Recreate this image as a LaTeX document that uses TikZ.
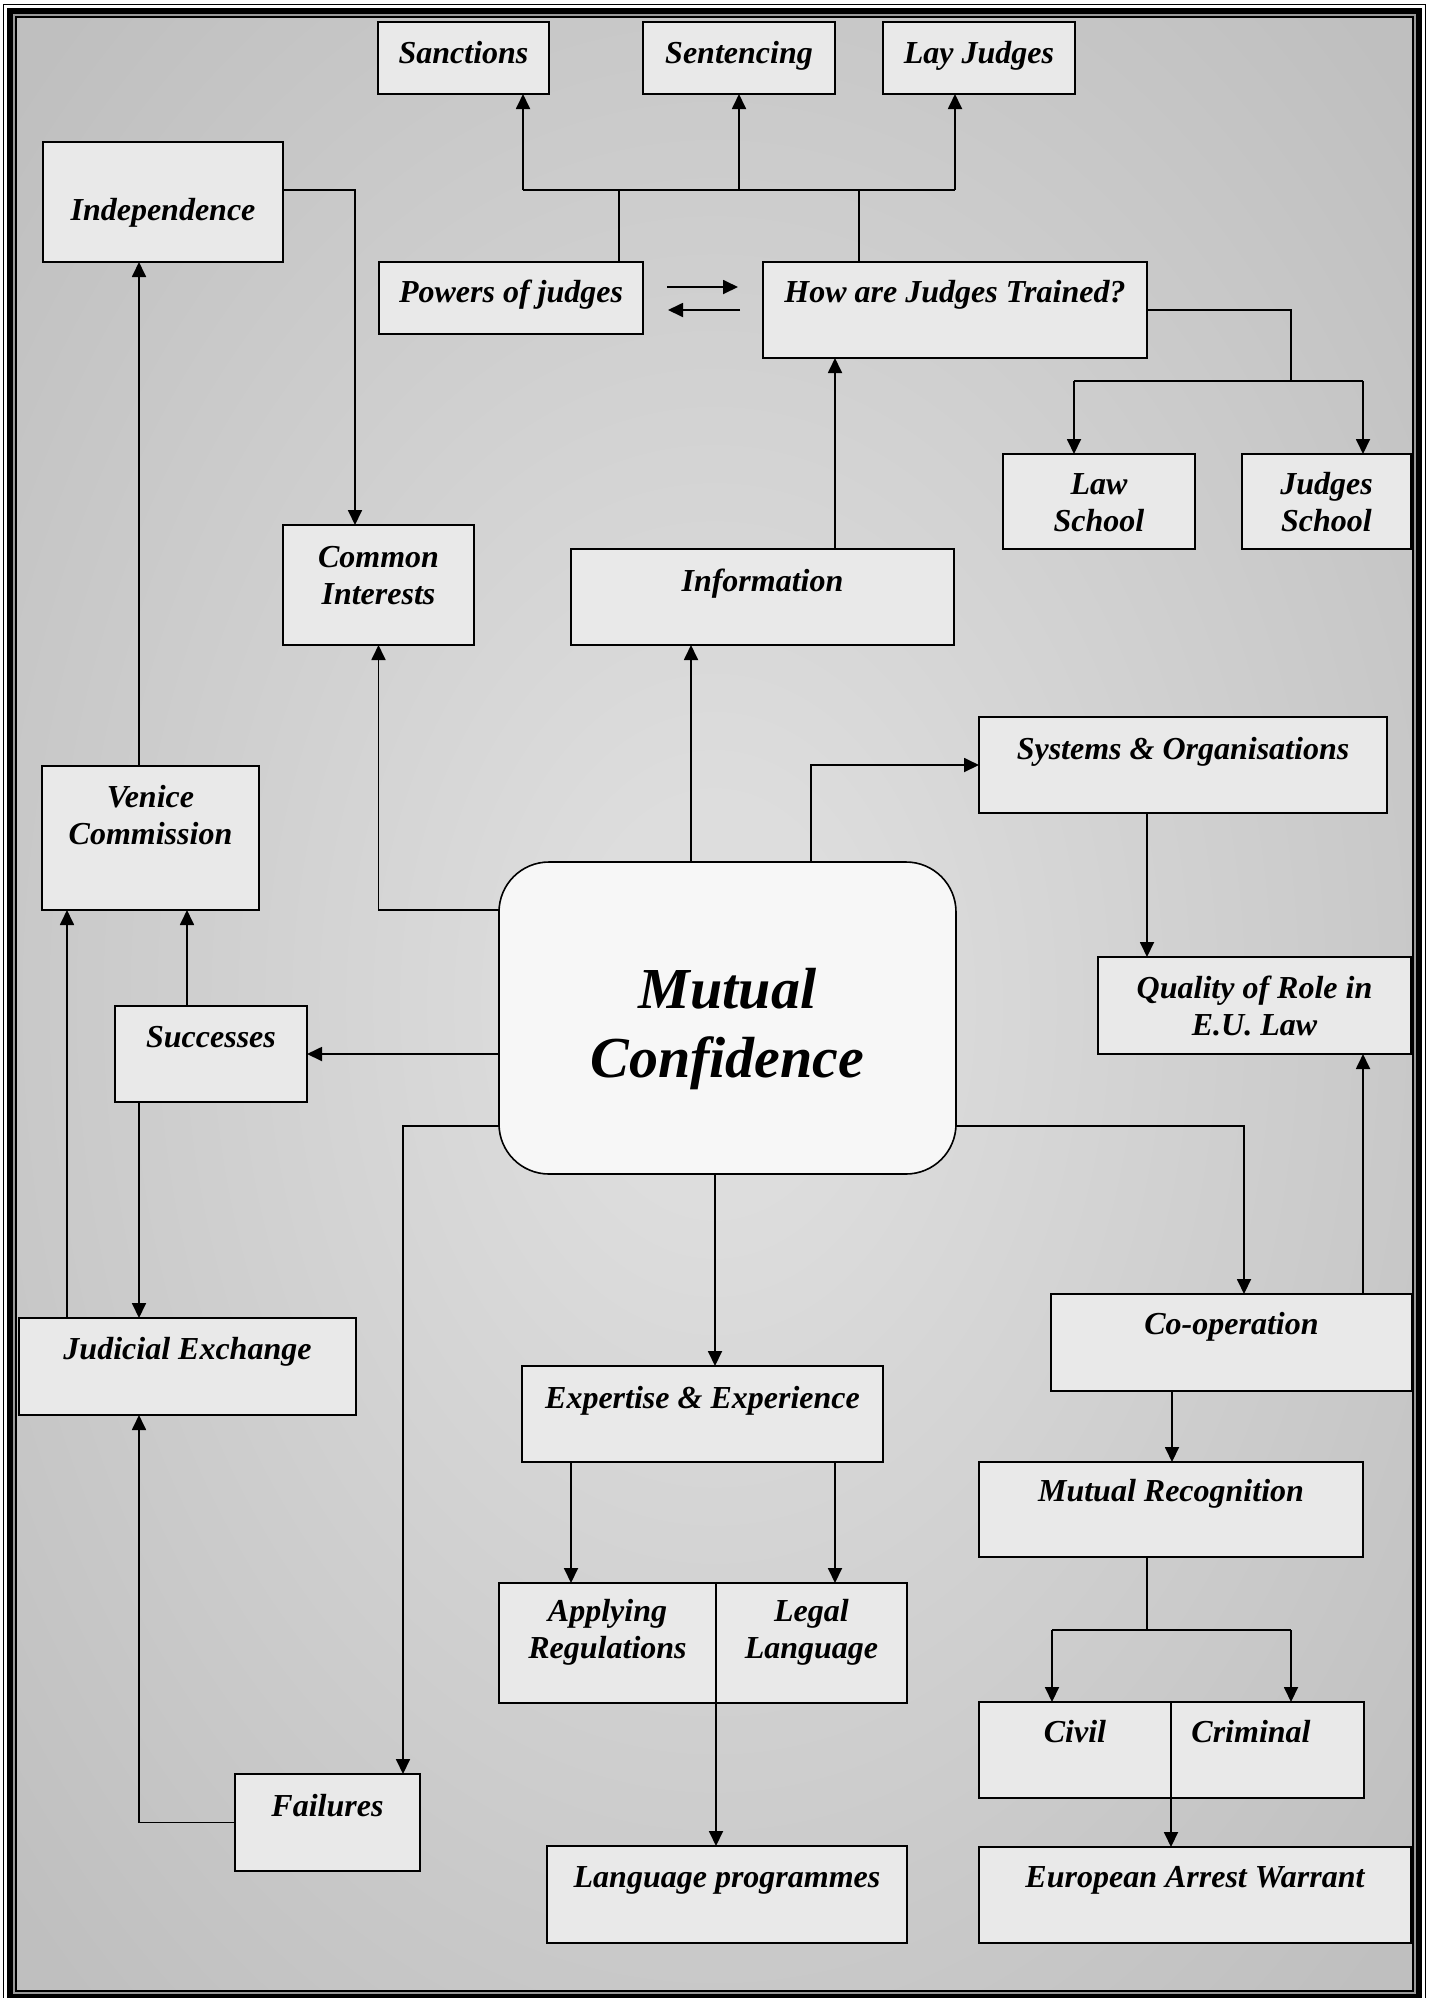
\documentclass[tikz,border=0pt]{standalone}
\usepackage{fontspec}
\setmainfont{Liberation Serif}
\usetikzlibrary{arrows.meta}

\definecolor{bgC}{HTML}{DDDDDD}
\definecolor{bgE}{HTML}{BFBFBF}
\definecolor{boxfill}{HTML}{E9E9E9}
\definecolor{hubfill}{HTML}{F7F7F7}
\definecolor{band}{HTML}{9A9A9A}

\pgfdeclareradialshading{bgglow}{\pgfpoint{0bp}{0bp}}{%
  color(0bp)=(bgC); color(5bp)=(bgC); color(34bp)=(bgE); color(75bp)=(bgE)}

% one box: name, left, top, right, bottom (pixels, y downwards)
\newcommand\mkbox[5]{%
  \pgfmathsetmacro\bw{#4-#2}\pgfmathsetmacro\bh{#5-#3}%
  \node[box, minimum width=\bw pt, minimum height=\bh pt] (#1) at (#2,#3) {};}

\begin{document}
\begin{tikzpicture}[x=1pt, y=-1pt,
  box/.style={draw, line width=2pt, fill=boxfill, rectangle, anchor=north west,
    inner sep=0pt, outer sep=0pt},
  lbl/.style={anchor=base, align=center, inner sep=0pt,
    font=\bfseries\itshape\fontsize{32}{37}\selectfont},
  line/.style={line width=1.8pt},
  arr/.style={line, -{Triangle[length=15pt,width=14pt]}}]

\useasboundingbox (0,0) rectangle (1440,1998);

% background and page frame
\shade[shading=bgglow] (17,18) rectangle (1412,1990);
\draw[line width=1.5pt] (16,17) rectangle (1413,1991);
\draw[band, line width=2.4pt] (13.8,14.8) rectangle (1415.2,1993.2);
\draw[line width=5.4pt] (10,11) rectangle (1419,1997);
\draw[line width=1.6pt] (3.5,4.5) rectangle (1425.5,2003.5);

% boxes
\mkbox{sanctions}{378}{22}{549}{94}
\mkbox{sentencing}{643}{22}{835}{94}
\mkbox{lay}{883}{22}{1075}{94}
\mkbox{indep}{43}{142}{283}{262}
\mkbox{powers}{379}{262}{643}{334}
\mkbox{how}{763}{262}{1147}{358}
\mkbox{law}{1003}{454}{1195}{549}
\mkbox{jschool}{1242}{454}{1411}{549}
\mkbox{ci}{283}{525}{474}{645}
\mkbox{info}{571}{549}{954}{645}
\mkbox{systems}{979}{717}{1387}{813}
\mkbox{venice}{42}{766}{259}{910}
\mkbox{quality}{1098}{957}{1411}{1054}
\mkbox{succ}{115}{1006}{307}{1102}
\mkbox{coop}{1051}{1294}{1412}{1391}
\mkbox{je}{19}{1318}{356}{1415}
\mkbox{exp}{522}{1366}{883}{1462}
\mkbox{mr}{979}{1462}{1363}{1557}
\mkbox{apply}{499}{1583}{716}{1703}
\mkbox{legal}{716}{1583}{907}{1703}
\mkbox{civil}{979}{1702}{1171}{1798}
\mkbox{criminal}{1171}{1702}{1364}{1798}
\mkbox{fail}{235}{1774}{420}{1871}
\mkbox{langprog}{547}{1846}{907}{1943}
\mkbox{eaw}{979}{1847}{1411}{1943}

% central hub
\node[draw, line width=1.6pt, fill=hubfill, rounded corners=50pt, anchor=north west,
  minimum width=457pt, minimum height=312pt, inner sep=0pt, outer sep=0pt]
  (mc) at (499,862) {};

% box texts (base = baseline of the last line)
\node[lbl] (sanctions-t) at (463.5,63) {Sanctions};
\node[lbl] (sentencing-t) at (739,63) {Sentencing};
\node[lbl] (lay-t) at (979,63) {Lay Judges};
\node[lbl] (indep-t) at (163,220) {Independence};
\node[lbl] (powers-t) at (511,302) {Powers of judges};
\node[lbl] (how-t) at (955,302) {How are Judges Trained?};
\node[lbl] (law-t) at (1099,531) {Law\\School};
\node[lbl] (jschool-t) at (1326.5,531) {Judges\\School};
\node[lbl] (ci-t) at (378.5,604) {Common\\Interests};
\node[lbl] (info-t) at (762.5,591) {Information};
\node[lbl] (systems-t) at (1183,759) {Systems \& Organisations};
\node[lbl] (venice-t) at (150.5,844) {Venice\\Commission};
\node[lbl] (quality-t) at (1254.5,1035) {Quality of Role in\\E.U. Law};
\node[lbl] (succ-t) at (211,1047) {Successes};
\node[lbl] (coop-t) at (1231.5,1334) {Co-operation};
\node[lbl] (je-t) at (187.5,1359) {Judicial Exchange};
\node[lbl] (exp-t) at (702.5,1408) {Expertise \& Experience};
\node[lbl] (mr-t) at (1171,1501) {Mutual Recognition};
\node[lbl] (apply-t) at (607.5,1658) {Applying\\Regulations};
\node[lbl] (legal-t) at (811.5,1658) {Legal\\Language};
\node[lbl] (civil-t) at (1075,1742) {Civil};
\node[lbl] (criminal-t) at (1251,1742) {Criminal};
\node[lbl] (fail-t) at (327.5,1816) {Failures};
\node[lbl] (langprog-t) at (727,1887) {Language programmes};
\node[lbl] (eaw-t) at (1195,1887) {European Arrest Warrant};
\node[lbl, font=\bfseries\itshape\fontsize{58}{69}\selectfont] (mc-t) at (727.5,1077)
  {Mutual\\Confidence};

% junction points of the two branching buses
\coordinate (tbusL) at (523,190);
\coordinate (tbusR) at (955,190);
\coordinate (rbusL) at (1074,381);
\coordinate (rbusR) at (1363,381);
\coordinate (bbusL) at (1052,1630);
\coordinate (bbusR) at (1291,1630);

% top: powers / training feed sanctions, sentencing, lay judges
\draw[line] (powers.north -| 619,0) -- (tbusL -| 619,0);
\draw[line] (how.north -| 859,0) -- (tbusL -| 859,0);
\draw[line] (tbusL) -- (tbusR);
\draw[arr] (tbusL) -- (sanctions.south -| tbusL);
\draw[arr] (sentencing.south |- tbusL) -- (sentencing.south);
\draw[arr] (tbusR) -- (lay.south -| tbusR);

% exchange between powers and training
\draw[arr] ([shift={(24,-11)}]powers.east) -- ([shift={(-25,-23)}]how.west);
\draw[arr] ([xshift=-23pt]how.west) -- ([shift={(25,12)}]powers.east);

% training branches into the schools
\draw[line] (how.east) -| (rbusL -| 1291,0);
\draw[line] (rbusL) -- (rbusR);
\draw[arr] (rbusL) -- (law.north -| rbusL);
\draw[arr] (rbusR) -- (jschool.north -| rbusR);

\draw[arr] (info.north -| 835,0) -- (how.south -| 835,0);
\draw[arr] (indep.east |- 0,190) -| (ci.north -| 355,0);
\draw[arr] (venice.north -| 139,0) -- (indep.south -| 139,0);

% from the hub
\draw[arr] (mc.west |- 0,910) -| (ci.south);
\draw[arr] (mc.north -| 691,0) -- (info.south -| 691,0);
\draw[arr] (mc.north -| 811,0) |- (systems.west);
\draw[arr] (systems.south -| 1147,0) -- (quality.north -| 1147,0);
\draw[arr] (mc.west |- succ.east) -- (succ.east);
\draw[arr] (mc.west |- 0,1126) -| (fail.north -| 403,0);
\draw[arr] (mc.south -| 715,0) -- (exp.north -| 715,0);
\draw[arr] (mc.east |- 0,1126) -| (coop.north -| 1244,0);

% left column
\draw[arr] (succ.north -| 187,0) -- (venice.south -| 187,0);
\draw[arr] (je.north -| 67,0) -- (venice.south -| 67,0);
\draw[arr] (succ.south -| 139,0) -- (je.north -| 139,0);
\draw[arr] (fail.west) -| (je.south -| 139,0);

% expertise branch
\draw[arr] (exp.south -| 571,0) -- (apply.north -| 571,0);
\draw[arr] (exp.south -| 835,0) -- (legal.north -| 835,0);
\draw[arr] (apply.south east) -- (langprog.north -| apply.south east);

% co-operation branch
\draw[arr] (coop.north -| 1363,0) -- (quality.south -| 1363,0);
\draw[arr] (coop.south -| 1172,0) -- (mr.north -| 1172,0);
\draw[line] (mr.south -| 1147,0) -- (bbusL -| 1147,0);
\draw[line] (bbusL) -- (bbusR);
\draw[arr] (bbusL) -- (civil.north -| bbusL);
\draw[arr] (bbusR) -- (criminal.north -| bbusR);
\draw[arr] (civil.south east) -- (eaw.north -| civil.south east);
\end{tikzpicture}
\end{document}
